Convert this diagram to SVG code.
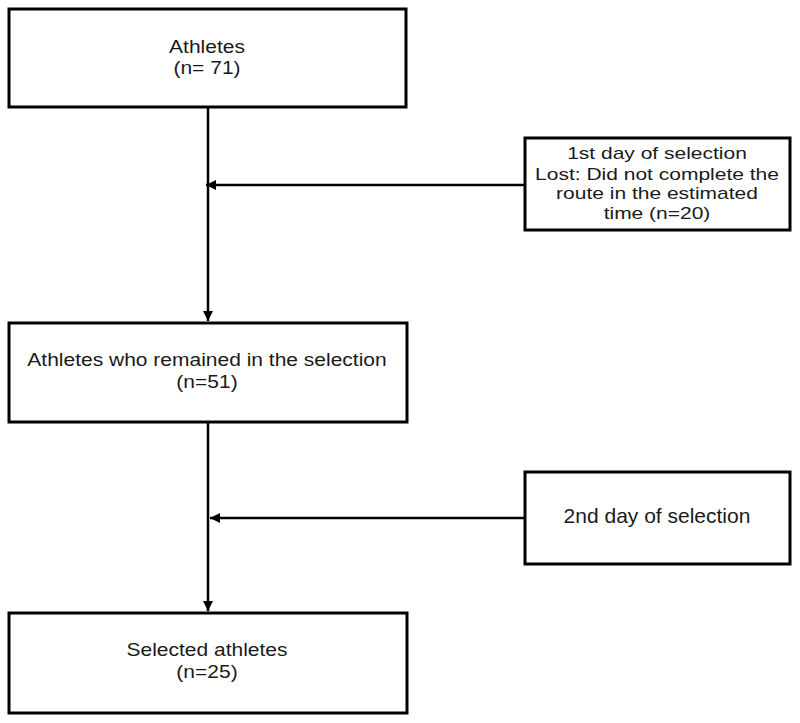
<svg xmlns="http://www.w3.org/2000/svg" width="800" height="723" viewBox="0 0 800 723">
<style>
.box{fill:#fff;stroke:#000;stroke-width:3}
.t{font-family:"Liberation Sans",Arial,sans-serif;font-size:21px;fill:#1a1a1a;text-anchor:middle}
.c{stroke:#000;stroke-width:2.5;fill:none}
</style>
<defs>
<marker id="ah" viewBox="0 0 10 10" refX="10" refY="5" markerWidth="4" markerHeight="4" orient="auto" markerUnits="strokeWidth">
<path d="M0,0 L10,5 L0,10 z" fill="#000"/>
</marker>
</defs>
<rect width="800" height="723" fill="#fff"/>
<g id="connectors">
<line class="c" x1="208" y1="107" x2="208" y2="321" marker-end="url(#ah)"/>
<line class="c" x1="525" y1="185" x2="206" y2="185" marker-end="url(#ah)"/>
<line class="c" x1="208" y1="422" x2="208" y2="611" marker-end="url(#ah)"/>
<line class="c" x1="525" y1="518" x2="210" y2="518" marker-end="url(#ah)"/>
</g>
<g id="athletes">
<rect class="box" x="9" y="9" width="397" height="98"/>
<text class="t" transform="translate(207,52.5) scale(1,0.9)">Athletes</text>
<text class="t" transform="translate(207,74) scale(1,0.9)">(n= 71)</text>
</g>
<g id="day1">
<rect class="box" x="525" y="138" width="265" height="92"/>
<text class="t" transform="translate(657,159) scale(1,0.8)">1st day of selection</text>
<text class="t" transform="translate(657,179.5) scale(1,0.8)">Lost: Did not complete the</text>
<text class="t" transform="translate(657,199) scale(1,0.8)">route in the estimated</text>
<text class="t" transform="translate(657,218.5) scale(1,0.8)">time (n=20)</text>
</g>
<g id="remained">
<rect class="box" x="9" y="323" width="398" height="99"/>
<text class="t" transform="translate(207,366) scale(1,0.9)">Athletes who remained in the selection</text>
<text class="t" transform="translate(207,387.5) scale(1,0.9)">(n=51)</text>
</g>
<g id="day2">
<rect class="box" x="525" y="472" width="265" height="92"/>
<text class="t" x="657" y="523">2nd day of selection</text>
</g>
<g id="selected">
<rect class="box" x="9" y="613" width="398" height="100"/>
<text class="t" transform="translate(207,656) scale(1,0.9)">Selected athletes</text>
<text class="t" transform="translate(207,677.5) scale(1,0.9)">(n=25)</text>
</g>
</svg>
